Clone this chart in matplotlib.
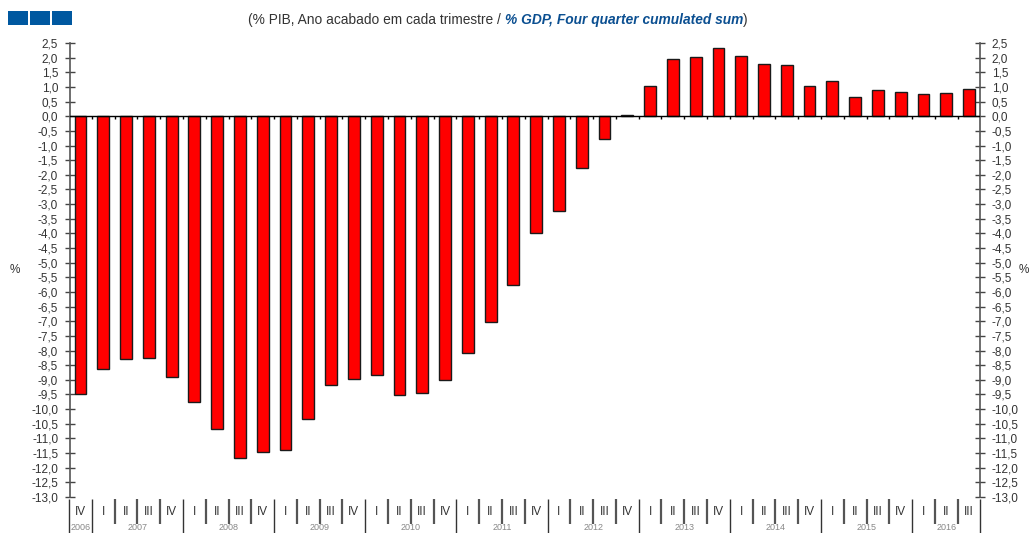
import matplotlib
matplotlib.use('Agg')
import matplotlib.pyplot as plt
import numpy as np
from matplotlib.patches import Rectangle

# ---- data ----
values = [-9.49, -8.64, -8.28, -8.27, -8.91, -9.75, -10.67, -11.67, -11.45, -11.38,
          -10.35, -9.18, -8.97, -8.85, -9.52, -9.45, -9.00, -8.07, -7.04, -5.75,
          -3.97, -3.25, -1.78, -0.79, 0.05, 1.02, 1.95, 2.03, 2.33, 2.06,
          1.78, 1.76, 1.04, 1.21, 0.65, 0.89, 0.84, 0.77, 0.81, 0.92]
quarters = ['IV'] + ['I', 'II', 'III', 'IV'] * 9 + ['I', 'II', 'III']
years = ['2006', '2007', '2008', '2009', '2010', '2011', '2012', '2013', '2014', '2015', '2016']
y_ticks = np.arange(-13.0, 2.51, 0.5)

W, H = 1031, 533
plt.rcParams['font.family'] = ['Liberation Sans', 'DejaVu Sans']
fig = plt.figure(figsize=(W / 100, H / 100), dpi=100)
fig.patch.set_facecolor('white')

ax_l, ax_r, ax_t, ax_b = 70, 980, 43, 497
ax = fig.add_axes([ax_l / W, (H - ax_b) / H, (ax_r - ax_l) / W, (ax_b - ax_t) / H])

x = np.arange(len(values))
ax.bar(x, values, width=0.52, color='#ff0000', edgecolor='#1a1a1a', linewidth=1.0, zorder=3)
ax.set_xlim(-0.46, len(values) - 0.52)
ax.set_ylim(-13.0, 2.5)
ax.axhline(0, color='black', lw=1.0, zorder=4)
# small category ticks on the zero line
ax.vlines(x[:-1] + 0.5, -0.1, 0, color='black', lw=1.0, zorder=4)

ax.set_yticks(y_ticks)
ax.set_yticklabels([f'{t:.1f}'.replace('.', ',') for t in y_ticks])
ax.tick_params(axis='y', direction='inout', length=7, width=1, colors='#444',
               labelcolor='#333', labelsize=8.5, left=True, right=True,
               labelleft=True, labelright=True, pad=5)
ax.set_xticks([])
for s in ['top', 'bottom']:
    ax.spines[s].set_visible(False)
for s in ['left', 'right']:
    ax.spines[s].set_color('#555')
    ax.spines[s].set_linewidth(1.2)

# category label row below the plot
trans = ax.get_xaxis_transform()
ah = ax_b - ax_t
def ya(py):
    return (ax_b - py) / ah

for xi, q in zip(x, quarters):
    ax.text(xi, ya(512), q, transform=trans, ha='center', va='center',
            fontsize=8.5, color='#333', clip_on=False)

# separators
year_starts = [0] + [i for i, q in enumerate(quarters) if q == 'I']
bounds = np.arange(-1, len(values)) + 0.5
for b in bounds:
    is_year = (int(round(b + 0.5)) in year_starts) or b < 0 or b > len(values) - 1
    y_end = ya(540) if is_year else ya(524)
    ax.plot([b, b], [ya(499), y_end], transform=trans, color='#333' if is_year else '#555',
            lw=1.0 if is_year else 1.6, clip_on=False, solid_capstyle='butt')

# year labels at the bottom edge
ends = year_starts[1:] + [len(values)]
for yr, s, e in zip(years, year_starts, ends):
    ax.text((s + e - 1) / 2, ya(532), yr, transform=trans, ha='center', va='bottom',
            fontsize=6.5, color='#888', clip_on=False)

# % labels
fig.text(15 / W, 1 - 270 / H, '%', ha='center', va='center', fontsize=8.5, color='#333')
fig.text(1024 / W, 1 - 270 / H, '%', ha='center', va='center', fontsize=8.5, color='#333')

# blue squares
for i in range(3):
    fig.patches.append(Rectangle(((8 + i * 22) / W, (H - 25) / H), 19.5 / W, 14 / H,
                                 transform=fig.transFigure, facecolor='#0058a0',
                                 edgecolor='none'))

# title in pieces
parts = [("(% PIB, Ano acabado em cada trimestre / ", dict(color='#333', fontweight='normal', fontstyle='normal')),
         ("% GDP, Four quarter cumulated sum", dict(color='#0b4f91', fontweight='bold', fontstyle='italic')),
         (")", dict(color='#333', fontweight='normal', fontstyle='normal'))]
renderer = fig.canvas.get_renderer()
texts = []
for s, kw in parts:
    t = fig.text(0, 1 - 20 / H, s, ha='left', va='center', fontsize=9.9, **kw)
    texts.append(t)
widths = [t.get_window_extent(renderer).width for t in texts]
total = sum(widths)
cx = 498
start = cx - total / 2
for t, w in zip(texts, widths):
    t.set_x(start / W)
    start += w

fig.savefig('out.png', dpi=100, facecolor='white')
